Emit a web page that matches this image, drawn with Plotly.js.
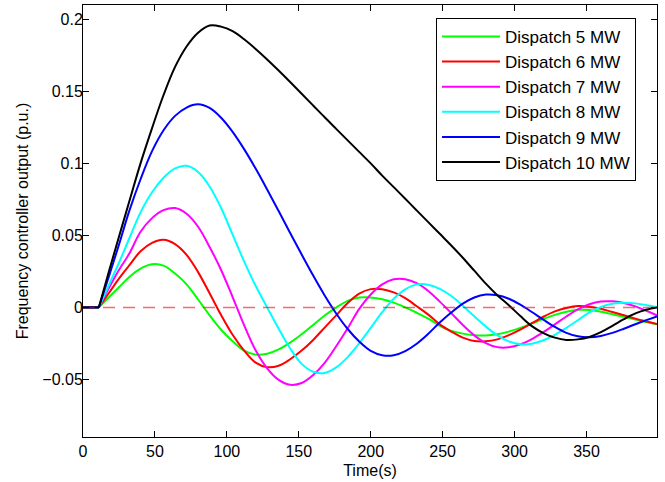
<!DOCTYPE html>
<html>
<head>
<meta charset="utf-8">
<script src="https://cdn.plot.ly/plotly-3.0.1.min.js"></script>
<style>
html, body { margin: 0; padding: 0; background: #ffffff; }
#chart { width: 665px; height: 482px; }
</style>
</head>
<body>
<div id="chart"></div>
<script>
// ---- data ----
const time = [0, 11, 18, 25, 32, 40, 48, 56, 64, 72, 80, 88, 96, 104, 112, 120, 128, 136, 144, 152,
  160, 168, 176, 184, 192, 200, 208, 216, 224, 232, 240, 248, 256, 264, 272, 280, 288, 296, 304, 312,
  320, 328, 336, 344, 352, 360, 368, 376, 384, 392, 399];
const onsetTime = 11;

const seriesNames = ['Dispatch 5 MW', 'Dispatch 6 MW', 'Dispatch 7 MW', 'Dispatch 8 MW', 'Dispatch 9 MW', 'Dispatch 10 MW'];

const dispatch5 = [0, 0, 0.007, 0.014, 0.021, 0.027, 0.030, 0.029, 0.0235, 0.016, 0.0055, -0.0055, -0.0155, -0.0235, -0.030, -0.0328,
  -0.0322, -0.0292, -0.0245, -0.0187, -0.0122, -0.0056, -0.0001, 0.0045, 0.0068, 0.0068, 0.0056, 0.0033, 0.0000, -0.0037,
  -0.0078, -0.0128, -0.0163, -0.0182, -0.0193, -0.0195, -0.0186, -0.0168, -0.0142, -0.0112, -0.0080, -0.0052, -0.0030,
  -0.0017, -0.0018, -0.0030, -0.0047, -0.0066, -0.0085, -0.0103, -0.0118];
const dispatch6 = [0, 0, 0.010, 0.020, 0.029, 0.039, 0.0448, 0.047, 0.0440, 0.0365, 0.0245, 0.0098, -0.0053, -0.019, -0.030, -0.0384,
  -0.0415, -0.0405, -0.0360, -0.0300, -0.0226, -0.0140, -0.0055, 0.0030, 0.0095, 0.0127, 0.0126, 0.0104, 0.0064, 0.0008,
  -0.0050, -0.0118, -0.0168, -0.0210, -0.0233, -0.0235, -0.0222, -0.0193, -0.0155, -0.0110, -0.0065, -0.0028, -0.0004,
  0.0009, 0.0005, -0.0010, -0.0032, -0.0055, -0.0078, -0.0098, -0.0115];
const dispatch7 = [0, 0, 0.0135, 0.026, 0.037, 0.0525, 0.062, 0.0675, 0.0690, 0.0650, 0.0560, 0.0420, 0.0260, 0.0072, -0.0123, -0.0298,
  -0.0423, -0.0503, -0.0537, -0.0525, -0.0470, -0.0385, -0.0270, -0.0145, -0.0010, 0.0090, 0.0160, 0.0195, 0.0196, 0.0168,
  0.0114, 0.0040, -0.0040, -0.0122, -0.0194, -0.0248, -0.0276, -0.0277, -0.0257, -0.0220, -0.0172, -0.0118, -0.0063,
  -0.0014, 0.0022, 0.0041, 0.0042, 0.0030, 0.0007, -0.0025, -0.0055];
const dispatch8 = [0, 0, 0.0155, 0.031, 0.0475, 0.066, 0.080, 0.090, 0.0965, 0.0983, 0.0940, 0.0840, 0.0690, 0.0505, 0.0320, 0.0150,
  0.0000, -0.0148, -0.0285, -0.0392, -0.0447, -0.0455, -0.0416, -0.0345, -0.0250, -0.0142, -0.0033, 0.0060, 0.0125, 0.0160,
  0.0158, 0.0129, 0.0079, 0.0012, -0.0062, -0.0133, -0.0194, -0.0236, -0.0256, -0.0252, -0.0228, -0.0190, -0.0142,
  -0.0089, -0.0035, 0.0003, 0.0025, 0.0032, 0.0028, 0.0015, 0.0003];
const dispatch9 = [0, 0, 0.0215, 0.0435, 0.0665, 0.089, 0.1085, 0.123, 0.1330, 0.1388, 0.1410, 0.1385, 0.1317, 0.1219, 0.1099, 0.0964,
  0.0819, 0.0669, 0.0517, 0.0367, 0.0221, 0.0083, -0.0042, -0.0150, -0.0237, -0.0302, -0.0332, -0.0332, -0.0303, -0.0252,
  -0.0183, -0.0105, -0.0036, 0.0026, 0.0069, 0.0089, 0.0084, 0.0060, 0.0019, -0.0032, -0.0085, -0.0136, -0.0177,
  -0.0201, -0.0207, -0.0198, -0.0177, -0.0148, -0.0117, -0.0087, -0.0062];
const dispatch10 = [0, 0, 0.025, 0.049, 0.073, 0.100, 0.1245, 0.1475, 0.1670, 0.1812, 0.1908, 0.1958, 0.1950, 0.1918, 0.1862, 0.1795,
  0.1722, 0.1645, 0.1565, 0.1484, 0.1402, 0.1320, 0.1240, 0.1160, 0.1080, 0.1000, 0.0915, 0.0835, 0.0754, 0.0673,
  0.0592, 0.0511, 0.0430, 0.0345, 0.0255, 0.0165, 0.0085, 0.0015, -0.0060, -0.0130, -0.0178, -0.0210, -0.0226,
  -0.0222, -0.0205, -0.0172, -0.0128, -0.0082, -0.0042, -0.0015, 0.0000];

const seriesColors = ['#00ff00', '#ff0000', '#ff00ff', '#00ffff', '#0000ff', '#000000'];

const refLineX = [0, 399];
const refLineY = [0, 0];

const xTickVals = [0, 50, 100, 150, 200, 250, 300, 350];
const xTickText = ['0', '50', '100', '150', '200', '250', '300', '350'];
const yTickVals = [-0.05, 0, 0.05, 0.1, 0.15, 0.2];
const yTickText = ['\u22120.05', '0', '0.05', '0.1', '0.15', '0.2'];

// ---- traces ----
const allSeries = [dispatch5, dispatch6, dispatch7, dispatch8, dispatch9, dispatch10];
const k = time.indexOf(onsetTime);
const traces = [];
allSeries.forEach(function (vals, i) {
  traces.push({
    type: 'scatter', mode: 'lines',
    x: time.slice(0, k + 1), y: vals.slice(0, k + 1),
    line: { color: seriesColors[i], width: 2 },
    legendgroup: 'g' + i, showlegend: false, hoverinfo: 'skip'
  });
  traces.push({
    type: 'scatter', mode: 'lines', name: seriesNames[i],
    x: time.slice(k), y: vals.slice(k),
    line: { color: seriesColors[i], width: 2, shape: 'spline', smoothing: 1 },
    legendgroup: 'g' + i, showlegend: true
  });
});
traces.push({
  type: 'scatter', mode: 'lines', x: refLineX, y: refLineY,
  line: { color: 'rgba(255,0,0,0.6)', width: 1.5, dash: '12px,8px' },
  showlegend: false, hoverinfo: 'skip'
});

const fontFam = 'Liberation Sans, Arial, Helvetica, sans-serif';
const layout = {
  width: 665, height: 482,
  margin: { l: 83, r: 8, t: 5, b: 45, pad: 0 },
  paper_bgcolor: '#ffffff', plot_bgcolor: '#ffffff',
  font: { family: fontFam, size: 16, color: '#000000' },
  showlegend: true,
  legend: {
    x: 0.615, y: 0.970, xanchor: 'left', yanchor: 'top',
    bgcolor: '#ffffff', bordercolor: '#000000', borderwidth: 1,
    font: { family: fontFam, size: 17, color: '#000000' },
    traceorder: 'grouped', tracegroupgap: 0, itemwidth: 58
  },
  xaxis: {
    range: [0, 399], tickmode: 'array', tickvals: xTickVals, ticktext: xTickText,
    ticks: 'inside', ticklen: 6, tickwidth: 1, tickcolor: '#000000',
    showline: true, linecolor: '#000000', linewidth: 1, mirror: 'allticks',
    showgrid: false, zeroline: false,
    tickfont: { family: fontFam, size: 16, color: '#000000' },
    title: { text: 'Time(s)', font: { family: fontFam, size: 16, color: '#000000' }, standoff: 5 }
  },
  yaxis: {
    range: [-0.09, 0.21], tickmode: 'array', tickvals: yTickVals, ticktext: yTickText,
    ticks: 'inside', ticklen: 6, tickwidth: 1, tickcolor: '#000000',
    showline: true, linecolor: '#000000', linewidth: 1, mirror: 'allticks',
    showgrid: false, zeroline: false, ticklabelstandoff: -4,
    tickfont: { family: fontFam, size: 16, color: '#000000' },
    title: { text: 'Frequency controller output (p.u.)', font: { family: fontFam, size: 16, color: '#000000' }, standoff: 9 }
  }
};

Plotly.newPlot('chart', traces, layout, { staticPlot: true, displayModeBar: false });
</script>
</body>
</html>
